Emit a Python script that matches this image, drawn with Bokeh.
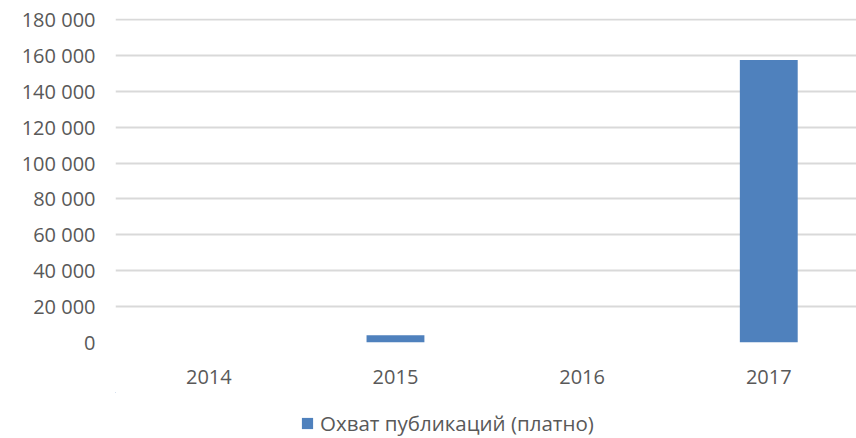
from bokeh.plotting import figure
from bokeh.layouts import column
from bokeh.models import Range1d, FixedTicker, Legend, LegendItem, ColumnDataSource
from bokeh.embed import file_html
from bokeh.resources import INLINE

years = ["2014", "2015", "2016", "2017"]
reach = [0, 4000, 0, 157500]
series_name = "Охват публикаций (платно)"
y_ticks = [0, 20000, 40000, 60000, 80000, 100000, 120000, 140000, 160000, 180000]
y_tick_labels = ["0", "20 000", "40 000", "60 000", "80 000", "100 000",
                 "120 000", "140 000", "160 000", "180 000"]

FONT = "Open Sans"
TXT = "#595959"
BAR = "#4f81bd"

xs = list(range(len(years)))
src = ColumnDataSource(dict(x=xs, top=reach))

p = figure(frame_width=741, frame_height=324, output_backend="svg", toolbar_location=None,
           x_range=Range1d(-0.5, 3.47), y_range=Range1d(0, 180600),
           min_border_left=115, min_border_top=18, min_border_right=0, min_border_bottom=50)
p.outline_line_color = None
p.background_fill_color = "white"
p.border_fill_color = "white"

r = p.vbar(x="x", top="top", width=0.31, source=src, fill_color=BAR, line_color=None)

p.xgrid.grid_line_color = None
p.ygrid.grid_line_color = "#d9d9d9"
p.ygrid.grid_line_width = 2
p.ygrid.ticker = FixedTicker(ticks=y_ticks)

p.yaxis.ticker = FixedTicker(ticks=y_ticks)
p.yaxis.major_label_overrides = {t: l for t, l in zip(y_ticks, y_tick_labels)}
p.xaxis.ticker = FixedTicker(ticks=xs)
p.xaxis.major_label_overrides = {i: y for i, y in zip(xs, years)}

for ax in (p.xaxis, p.yaxis):
    ax.axis_line_color = None
    ax.major_tick_line_color = None
    ax.minor_tick_line_color = None
    ax.major_tick_out = 0
    ax.major_tick_in = 0
    ax.major_label_text_font = FONT
    ax.major_label_text_font_size = "20px"
    ax.major_label_text_color = TXT
p.yaxis.major_label_standoff = 20
p.xaxis.major_label_standoff = 27

# legend strip below the chart (same series, its bars lie outside this strip's view)
p2 = figure(frame_width=741, frame_height=46, output_backend="svg", toolbar_location=None,
            x_range=Range1d(10, 11), y_range=Range1d(-2, -1),
            x_axis_type=None, y_axis_type=None,
            min_border_left=115, min_border_right=0, min_border_top=0, min_border_bottom=0)
p2.outline_line_color = None
p2.background_fill_color = "white"
p2.border_fill_color = "white"
r2 = p2.vbar(x="x", top="top", width=0.31, source=src, fill_color=BAR, line_color=None)

legend = Legend(items=[LegendItem(label=series_name, renderers=[r2])],
                location=(185, 1), orientation="horizontal",
                label_text_font=FONT, label_text_font_size="20.5px", label_text_color=TXT,
                glyph_width=14, glyph_height=14, border_line_color=None,
                background_fill_alpha=0, margin=0, padding=0, label_standoff=6)
p2.add_layout(legend, "center")

layout = column(p, p2, spacing=0)
open("out.html", "w").write(file_html(layout, INLINE))
